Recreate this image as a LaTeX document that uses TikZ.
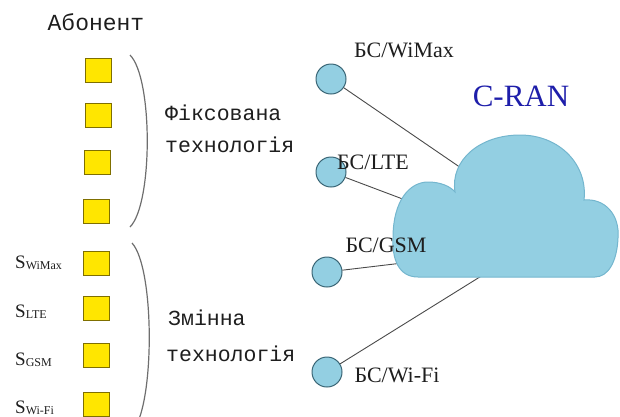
\documentclass[tikz,border=0pt]{standalone}
\usepackage{fontspec}
\setmainfont{Liberation Serif}
\newfontfamily\typefont{Liberation Mono}
\definecolor{boxfill}{HTML}{FFE600}
\definecolor{boxedge}{HTML}{7F6F00}
\definecolor{cloudfill}{HTML}{93CFE2}
\definecolor{cloudedge}{HTML}{74B6CE}
\definecolor{stedge}{HTML}{3A6676}
\definecolor{linkcol}{HTML}{4A4A4A}
\definecolor{bracecol}{HTML}{6E6E6E}
\definecolor{textcol}{HTML}{1E1E1E}
\definecolor{ranblue}{HTML}{1E1EAA}
\begin{document}
\begin{tikzpicture}[x=1pt,y=-1pt,
  userbox/.style={draw=boxedge, fill=boxfill, line width=1pt,
    minimum width=26pt, minimum height=24pt, inner sep=0pt},
  station/.style={circle, draw=stedge, fill=cloudfill, line width=1pt,
    minimum size=30pt, inner sep=0pt},
  link/.style={draw=linkcol, line width=0.9pt},
  brace/.style={draw=bracecol, line width=1.2pt},
  typetext/.style={font=\typefont\fontsize{21.5}{24}\selectfont,
    inner sep=0pt, text=textcol, anchor=base west},
  bslabel/.style={font=\fontsize{22}{24}\selectfont, inner sep=0pt,
    text=textcol},
  slabel/.style={font=\fontsize{19}{20}\selectfont, inner sep=0pt,
    text=textcol, anchor=base west}]
\useasboundingbox (0,0) rectangle (620,416);
\newcommand{\subtxt}[1]{\raisebox{-1pt}{\fontsize{12}{12}\selectfont #1}}

% subscriber column
\node[font=\typefont\fontsize{23}{24}\selectfont, inner sep=0pt, text=textcol,
  anchor=base] (abon) at (96,30) {Абонент};

\node[userbox] (f1) at (98,70) {};
\node[userbox] (f2) at (98,115) {};
\node[userbox] (f3) at (97,162) {};
\node[userbox] (f4) at (96,211) {};

\node[userbox] (m1) at (96,263) {};
\node[userbox] (m2) at (96,308) {};
\node[userbox] (m3) at (96,355) {};
\node[userbox] (m4) at (96,404) {};

\node[slabel] (s1) at (15,268) {S\subtxt{WiMax}};
\node[slabel] (s2) at (15,317) {S\subtxt{LTE}};
\node[slabel] (s3) at (15,365) {S\subtxt{GSM}};
\node[slabel] (s4) at (15,413) {S\subtxt{Wi-Fi}};

% grouping brackets
\coordinate (ftop) at (130,55);
\coordinate (fbot) at (130,227);
\draw[brace] (ftop) .. controls (153,78) and (153,204) .. (fbot);
\coordinate (mtop) at (132,243);
\coordinate (mbot) at (132,432);
\draw[brace] (mtop) .. controls (155,268) and (155,407) .. (mbot);

\node[typetext] (fx1) at (165,120) {Фіксована};
\node[typetext] (fx2) at (165,152) {технологія};
\node[typetext] (mv1) at (168,325) {Змінна};
\node[typetext] (mv2) at (166,361) {технологія};

% base stations
\node[station] (wimax) at (331,79) {};
\node[station] (lte) at (331,172) {};
\node[station] (gsm) at (327,272) {};
\node[station] (wifi) at (327,372) {};

% attachment points on the cloud
\coordinate (cw) at (464,170);
\coordinate (cl) at (408,201);
\coordinate (cg) at (411,262);
\coordinate (cf) at (483,275);

\draw[link] (wimax) -- (cw);
\draw[link] (lte) -- (cl);
\draw[link] (gsm) -- (cg);
\draw[link] (wifi) -- (cf);

% cloud
\draw[fill=cloudfill, draw=cloudedge, line width=1pt]
  (418,277) .. controls (398,277) and (392,258) .. (393,238)
  .. controls (393,200) and (410,182) .. (428,182)
  .. controls (440,182) and (450,186) .. (455,192)
  .. controls (450,160) and (480,135) .. (520,135)
  .. controls (560,135) and (588,165) .. (584,200)
  .. controls (605,198) and (620,215) .. (618,238)
  .. controls (617,262) and (608,277) .. (595,277)
  -- cycle;

\node[font=\fontsize{31}{32}\selectfont, text=ranblue, inner sep=0pt]
  (cran) at (521,96) {C-RAN};

\node[bslabel] (lw) at (404,50) {БС/WiMax};
\node[bslabel] (ll) at (373,162) {БС/LTE};
\node[bslabel] (lg) at (386,245) {БС/GSM};
\node[bslabel] (lf) at (397,375) {БС/Wi-Fi};
\end{tikzpicture}
\end{document}
